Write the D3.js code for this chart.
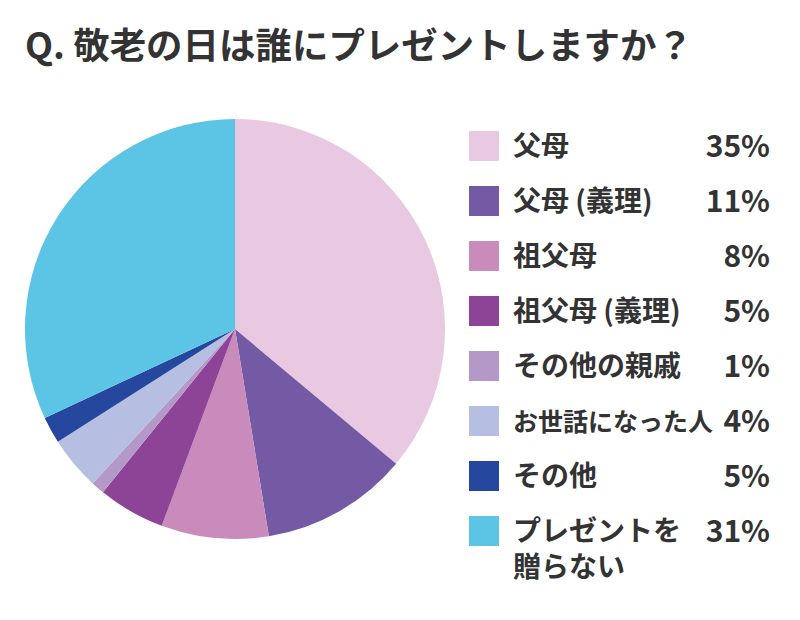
<!DOCTYPE html>
<html>
<head>
<meta charset="utf-8">
<script src="https://cdn.jsdelivr.net/npm/d3@7"></script>
<style>
  body { margin: 0; background: #fff; }
  text { font-family: "Noto Sans CJK JP", "Noto Sans", sans-serif; font-weight: bold; fill: #333; }
</style>
</head>
<body>
<script>
// 項目名 (凡例は改行あり)
const categories = ["父母", "父母（義理）", "祖父母", "祖父母（義理）", "その他の親戚", "お世話になった人", "その他", "プレゼントを贈らない"];
const legendLines = [["父母"], ["父母 (義理)"], ["祖父母"], ["祖父母 (義理)"], ["その他の親戚"], ["お世話になった人"], ["その他"], ["プレゼントを", "贈らない"]];
// 扇形の大きさ
const values = [35, 11, 8, 5, 1, 4, 2, 31];
// 凡例に書かれた割合
const percentLabels = ["35%", "11%", "8%", "5%", "1%", "4%", "5%", "31%"];
const colors = ["#e9c9e1", "#7459a5", "#c98abc", "#8e4496", "#b499c8", "#b6bfe1", "#25479e", "#5cc4e5"];
const title = "Q. 敬老の日は誰にプレゼントしますか？";

const width = 800;
const height = 620;

const svg = d3.select("body").append("svg")
    .attr("width", width)
    .attr("height", height);

svg.append("text")
    .attr("x", 25)
    .attr("y", 59)
    .attr("font-size", 36)
    .attr("textLength", 668)
    .attr("lengthAdjust", "spacingAndGlyphs")
    .text(title);

// 円グラフ
const radius = 210;
const pie = d3.pie().sort(null).value(d => d);
const arc = d3.arc().innerRadius(0).outerRadius(radius);

svg.append("g")
    .attr("transform", "translate(235,329)")
    .selectAll("path")
    .data(pie(values))
    .join("path")
    .attr("d", arc)
    .attr("fill", (d, i) => colors[i]);

// 凡例
const rowY = d3.scaleLinear().domain([0, 1]).range([131, 186]);
const maxLabelWidth = 200;

const legend = svg.append("g")
    .selectAll("g")
    .data(categories)
    .join("g")
    .attr("transform", (d, i) => `translate(469,${rowY(i)})`);

legend.append("rect")
    .attr("width", 30)
    .attr("height", 30)
    .attr("fill", (d, i) => colors[i]);

legend.selectAll("text.label")
    .data((d, i) => legendLines[i])
    .join("text")
    .attr("class", "label")
    .attr("x", 44)
    .attr("y", (d, j) => 25 + j * 36)
    .attr("font-size", 28)
    .text(d => d)
    .each(function() {
        // 長い項目名は文字を小さくする
        const len = this.getComputedTextLength();
        if (len > maxLabelWidth) {
            d3.select(this).attr("font-size", 28 * maxLabelWidth / len);
        }
    });

legend.append("text")
    .attr("x", 301)
    .attr("y", 26)
    .attr("font-size", 30)
    .attr("text-anchor", "end")
    .text((d, i) => percentLabels[i]);
</script>
</body>
</html>
